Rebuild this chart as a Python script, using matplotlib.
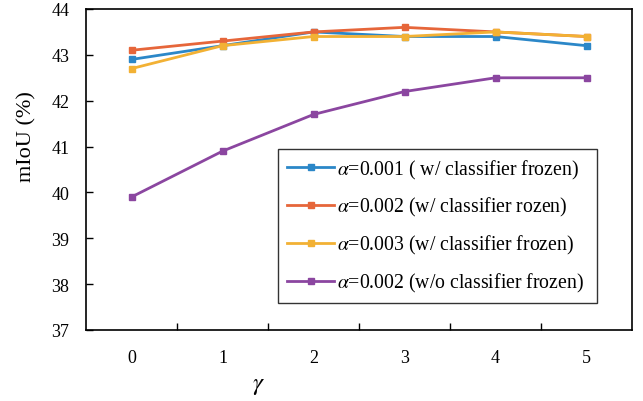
import matplotlib.pyplot as plt
import numpy as np

plt.rcParams['font.family'] = ['Liberation Serif', 'DejaVu Serif']
plt.rcParams['mathtext.fontset'] = 'stix'

gamma = [0, 1, 2, 3, 4, 5]
a001_frozen = [42.9, 43.2, 43.5, 43.4, 43.4, 43.2]
a002_frozen = [43.1, 43.3, 43.5, 43.6, 43.5, 43.4]
a003_frozen = [42.7, 43.2, 43.4, 43.4, 43.5, 43.4]
a002_unfrozen = [39.9, 40.9, 41.7, 42.2, 42.5, 42.5]

labels = [r'$\alpha$=0.001 ( w/ classifier frozen)',
          r'$\alpha$=0.002 (w/ classifier rozen)',
          r'$\alpha$=0.003 (w/ classifier frozen)',
          r'$\alpha$=0.002 (w/o classifier frozen)']
colors = ['#2B87C8', '#E6663A', '#F2B134', '#8B46A0']

fig = plt.figure(figsize=(6.43, 4.02), dpi=100)
ax = fig.add_axes([86 / 643, 1 - 331 / 402, (632 - 86) / 643, (331 - 10) / 402])

x = np.arange(len(gamma))
for ys, lab, c in zip([a001_frozen, a002_frozen, a003_frozen, a002_unfrozen], labels, colors):
    ax.plot(x, ys, color=c, lw=2, marker='s', ms=4, label=lab)

ax.set_xlim(-0.5, len(gamma) - 0.5)
ax.set_ylim(37, 44)
ax.set_yticks(np.arange(37, 45, 1))
ax.set_xticks(x)
ax.set_xticklabels([str(g) for g in gamma])
ax.set_xticks(np.arange(0.5, len(gamma) - 0.5, 1), minor=True)
ax.tick_params(axis='x', which='major', length=0, pad=14, labelsize=13)
ax.tick_params(axis='x', which='minor', direction='in', length=5, width=1)
ax.tick_params(axis='y', direction='in', length=5, width=1, labelsize=13, pad=12)
for s in ax.spines.values():
    s.set_linewidth(1.2)

fig.text(258 / 643, 1 - 386 / 402, r'$\gamma$', fontsize=18, ha='center', va='center')
fig.text(27 / 643, 1 - 137 / 402, 'mIoU (%)', fontsize=16, rotation=90, ha='center', va='center')

leg = ax.legend(loc='lower left',
                bbox_to_anchor=((278 - 86) / 546, (331 - 304) / 321, (597 - 278) / 546, 0.1),
                mode='expand', borderaxespad=0, fontsize=14.2, frameon=True, fancybox=False,
                edgecolor='black', handlelength=2.4, handletextpad=0.15, labelspacing=0.75,
                borderpad=0.45)
leg.get_frame().set_linewidth(1.0)

fig.savefig('out.png', dpi=100)
